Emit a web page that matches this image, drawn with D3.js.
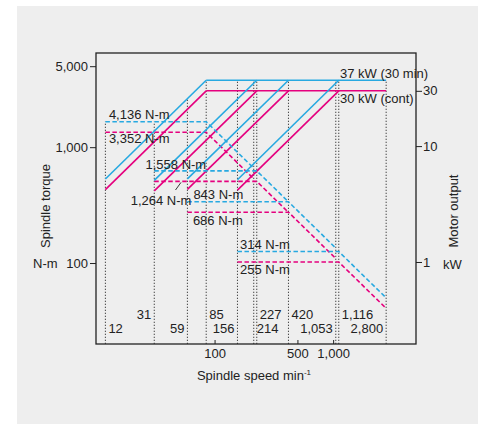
<!DOCTYPE html>
<html>
<head>
<meta charset="utf-8">
<script src="https://cdn.jsdelivr.net/npm/d3@7"></script>
<style>
  body { margin: 0; background: #fff; }
  svg text { font-family: "Liberation Sans", Arial, Helvetica, sans-serif; fill: #222; font-size: 13px; }
</style>
</head>
<body>
<div id="chart"></div>
<script>
// spindle gear ranges (min-1)
const rangeStart = [12, 31, 59, 156];
const rangeCorner = [85, 227, 420, 1116];
const rangeEnd = [214, 420, 1053, 2800];
const torque30min = [4136, 1558, 843, 314];
const torqueCont = [3352, 1264, 686, 255];
const power30min = 37;
const powerCont = 30;
const maxSpeed = 2800;

// speeds marked with dotted lines
const speedsUpper = [31, 85, 227, 420, 1116];
const speedsLower = [12, 59, 156, 214, 1053, 2800];

const speedTicks = [100, 500, 1000];
const torqueTicks = [100, 1000, 5000];
const powerTicks = [1, 10, 30];

const blue = '#27a9e1';
const pink = '#e5007e';

const width = 478, height = 424;
const plotL = 96, plotR = 416, plotT = 53, plotB = 344;

const svg = d3.select('#chart').append('svg')
  .attr('width', width)
  .attr('height', height);

svg.append('rect')
  .attr('x', 17).attr('y', 6)
  .attr('width', width - 17).attr('height', height - 6)
  .attr('fill', '#eeeeee');

const x = d3.scaleLog().domain([10, 5000]).range([plotL, plotR]);
const yL = d3.scaleLog().domain([20, 6500]).range([plotB, plotT]);       // left axis labels
const yT = d3.scaleLog().domain([50.1, 16170]).range([plotB, plotT]);    // torque curves
const yP = d3.scaleLog().domain([0.196, 63.6]).range([plotB, plotT]);    // motor output

const kW = (t, n) => t * 2 * Math.PI * n / 60000;

function torqueAt(tq, i, n) {
  if (n < rangeStart[i] || n > rangeEnd[i]) return 0;
  return n <= rangeCorner[i] ? tq[i] : tq[i] * rangeCorner[i] / n;
}
function powerAt(tq, p, n) {
  if (n >= rangeCorner[0]) return p;
  return d3.max(tq.map((t, i) => n >= rangeStart[i] && n <= rangeCorner[i] ? kW(t, n) : 0.2));
}

// dotted speed lines up to the top of the curves
const allSpeeds = speedsUpper.concat(speedsLower);
svg.append('g').selectAll('line')
  .data(allSpeeds)
  .enter()
  .append('line')
  .attr('x1', d => x(d)).attr('x2', d => x(d))
  .attr('y1', plotB)
  .attr('y2', d => Math.min(
    yP(powerAt(torque30min, power30min, d)),
    yT(d3.max(torque30min.map((t, i) => torqueAt(torque30min, i, d))) || 50.1)))
  .attr('stroke', '#444')
  .attr('stroke-width', 1)
  .attr('stroke-dasharray', '1.3,1.7');

const lineP = d3.line().x(d => x(d[0])).y(d => yP(d[1]));
const lineT = d3.line().x(d => x(d[0])).y(d => yT(d[1]));

function drawSeries(tq, p, color) {
  // output: rising lines then flat
  tq.forEach((t, i) => {
    svg.append('path')
      .attr('d', lineP([[rangeStart[i], kW(t, rangeStart[i])], [rangeCorner[i], p]]))
      .attr('fill', 'none').attr('stroke', color).attr('stroke-width', 1.6);
  });
  svg.append('path')
    .attr('d', lineP([[rangeCorner[0], p], [maxSpeed, p]]))
    .attr('fill', 'none').attr('stroke', color).attr('stroke-width', 1.6);

  // torque: flat then constant power
  tq.forEach((t, i) => {
    svg.append('path')
      .attr('d', lineT([[rangeStart[i], t], [rangeCorner[i], t], [rangeEnd[i], t * rangeCorner[i] / rangeEnd[i]]]))
      .attr('fill', 'none').attr('stroke', color).attr('stroke-width', 1.6)
      .attr('stroke-dasharray', '4.5,2.5');
  });
}
drawSeries(torqueCont, powerCont, pink);
drawSeries(torque30min, power30min, blue);

// frame
svg.append('rect')
  .attr('x', plotL).attr('y', plotT)
  .attr('width', plotR - plotL).attr('height', plotB - plotT)
  .attr('fill', 'none').attr('stroke', '#222').attr('stroke-width', 1.3);

// axes
const fmt = d3.format(',');
const gx = svg.append('g').attr('transform', 'translate(0,' + plotB + ')')
  .call(d3.axisBottom(x).tickValues(speedTicks).tickSize(-4).tickPadding(5).tickFormat(fmt));
const gl = svg.append('g').attr('transform', 'translate(' + plotL + ',0)')
  .call(d3.axisLeft(yL).tickValues(torqueTicks).tickSize(6).tickPadding(2).tickFormat(fmt));
const gr = svg.append('g').attr('transform', 'translate(' + plotR + ',0)')
  .call(d3.axisRight(yP).tickValues(powerTicks).tickSize(6).tickPadding(1).tickFormat(fmt));
[gx, gl, gr].forEach(g => {
  g.select('.domain').remove();
  g.selectAll('text').attr('font-size', 13).attr('font-family', null);
  g.selectAll('line').attr('stroke', '#222');
});

// speed labels
const upperAnchor = ['end', 'start', 'start', 'start', 'start'];
const lowerAnchor = ['start', 'end', 'end', 'start', 'end', 'end'];
svg.append('g').selectAll('text')
  .data(speedsUpper)
  .enter()
  .append('text')
  .attr('x', (d, i) => x(d) + (upperAnchor[i] === 'end' ? -3 : 3))
  .attr('y', 319)
  .attr('text-anchor', (d, i) => upperAnchor[i])
  .text(d => fmt(d));
svg.append('g').selectAll('text')
  .data(speedsLower)
  .enter()
  .append('text')
  .attr('x', (d, i) => x(d) + (lowerAnchor[i] === 'end' ? -3 : 3))
  .attr('y', 333)
  .attr('text-anchor', (d, i) => lowerAnchor[i])
  .text(d => fmt(d));

// torque labels
const blueLabelPos = [[12, 3.5, -3, 'start'], [85, 0, -2, 'end'], [59, 6, -3, 'start'], [156, 2.5, -2.5, 'start']];
const pinkLabelPos = [[12, 3.5, 11, 'start'], [59, 4, 23.5, 'end'], [59, 5.5, 13, 'start'], [156, 2.5, 11.5, 'start']];
function torqueLabels(tq, pos) {
  svg.append('g').selectAll('text')
    .data(tq)
    .enter()
    .append('text')
    .attr('x', (d, i) => x(pos[i][0]) + pos[i][1])
    .attr('y', (d, i) => yT(d) + pos[i][2])
    .attr('text-anchor', (d, i) => pos[i][3])
    .text(d => fmt(d) + ' N-m');
}
torqueLabels(torque30min, blueLabelPos);
torqueLabels(torqueCont, pinkLabelPos);

// leader for 1,264 N-m
svg.append('line')
  .attr('x1', 175.5).attr('y1', 190)
  .attr('x2', 181).attr('y2', yT(torqueCont[1]) + 1)
  .attr('stroke', '#222').attr('stroke-width', 0.9);

svg.append('text')
  .attr('x', 340).attr('y', yP(power30min) - 2.5)
  .text(power30min + ' kW (30 min)');
svg.append('text')
  .attr('x', 340).attr('y', yP(powerCont) + 12.5)
  .text(powerCont + ' kW (cont)');

// axis titles
svg.append('text')
  .attr('transform', 'translate(50,206) rotate(-90)')
  .attr('text-anchor', 'middle')
  .text('Spindle torque');
svg.append('text').attr('x', 33).attr('y', 268).text('N-m');

svg.append('text')
  .attr('transform', 'translate(458,211) rotate(-90)')
  .attr('text-anchor', 'middle')
  .text('Motor output');
svg.append('text').attr('x', 443).attr('y', 269).text('kW');

const xt = svg.append('text')
  .attr('x', 254).attr('y', 380)
  .attr('text-anchor', 'middle');
xt.append('tspan').text('Spindle speed min');
xt.append('tspan').attr('font-size', 8).attr('dy', -5).text('-1');
</script>
</body>
</html>
